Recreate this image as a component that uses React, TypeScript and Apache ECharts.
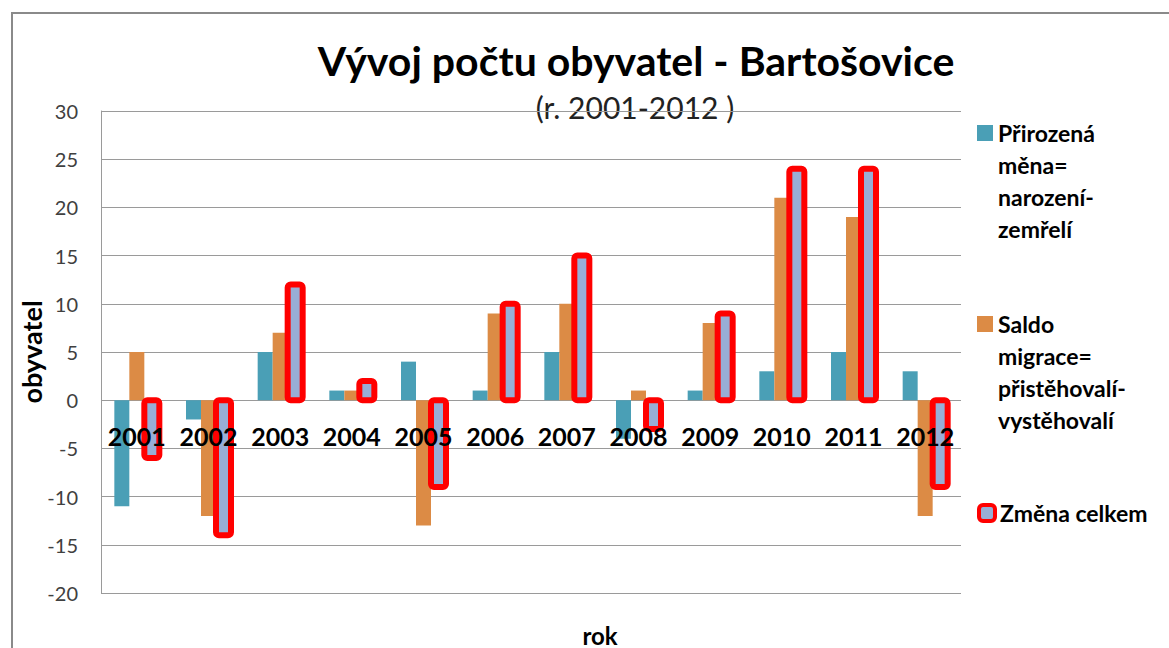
import React, { useEffect, useRef } from "react";
import * as echarts from "echarts";

const years = ["2001", "2002", "2003", "2004", "2005", "2006", "2007", "2008", "2009", "2010", "2011", "2012"];
const prirozenaMena = [-11, -2, 5, 1, 4, 1, 5, -4, 1, 3, 5, 3];
const saldoMigrace = [5, -12, 7, 1, -13, 9, 10, 1, 8, 21, 19, -12];
const zmenaCelkem = [-6, -14, 12, 2, -9, 10, 15, -3, 9, 24, 24, -9];

const seriesNames = [
  "Přirozená měna=narození-zemřelí",
  "Saldo migrace=přistěhovalí-vystěhovalí",
  "Změna celkem",
];
const legendLabels = [
  "Přirozená\nměna=\nnarození-\nzemřelí",
  "Saldo\nmigrace=\npřistěhovalí-\nvystěhovalí",
  "Změna celkem",
];

const titleText = "Vývoj počtu obyvatel - Bartošovice";
const subtitleText = "(r. 2001-2012 )";
const yAxisName = "obyvatel";
const xAxisName = "rok";

const FONT = "Lato, 'Open Sans', sans-serif";
const BAR_W = 15;

export default function App() {
  const ref = useRef<HTMLDivElement>(null);

  useEffect(() => {
    document.body.style.margin = "0";
    if (!ref.current) return;
    const chart = echarts.init(ref.current, undefined, { renderer: "svg" });

    const legendText = {
      fontFamily: FONT,
      fontSize: 23,
      fontWeight: "bold",
      color: "#000",
      lineHeight: 32,
    };
    // leading blank lines keep the icon level with the first text line
    const topAligned = (s: string) => {
      const n = s.split("\n").length - 1;
      return "\n".repeat(n) + s;
    };

    chart.setOption({
      animation: false,
      backgroundColor: "#fff",
      textStyle: { fontFamily: FONT },
      grid: { left: 101, right: 208, top: 111, bottom: 55, containLabel: false },
      legend: [
        {
          orient: "vertical",
          left: 972,
          top: 16,
          itemWidth: 16,
          itemHeight: 16,
          selectedMode: false,
          icon: "rect",
          data: [{ name: seriesNames[0] }],
          formatter: () => topAligned(legendLabels[0]),
          textStyle: legendText,
        },
        {
          orient: "vertical",
          left: 972,
          top: 207,
          itemWidth: 16,
          itemHeight: 16,
          selectedMode: false,
          icon: "rect",
          data: [{ name: seriesNames[1] }],
          formatter: () => topAligned(legendLabels[1]),
          textStyle: legendText,
        },
        {
          orient: "vertical",
          left: 972,
          top: 492,
          itemWidth: 16,
          itemHeight: 16,
          selectedMode: false,
          icon: "roundRect",
          data: [{ name: seriesNames[2] }],
          formatter: () => legendLabels[2],
          itemStyle: { color: "#98AED6", borderColor: "#FF0000", borderWidth: 4 },
          textStyle: legendText,
        },
      ],
      xAxis: {
        type: "category",
        data: years,
        z: 10,
        axisLine: { show: false },
        axisTick: { show: false },
        axisLabel: {
          fontFamily: FONT,
          fontSize: 25,
          fontWeight: "bold",
          color: "#000",
          margin: -170,
          interval: 0,
          hideOverlap: false,
        },
      },
      yAxis: {
        type: "value",
        min: -20,
        max: 30,
        interval: 5,
        name: yAxisName,
        nameLocation: "middle",
        nameGap: 56,
        nameRotate: 90,
        nameMoveOverlap: false,
        nameTextStyle: { fontFamily: FONT, fontSize: 27, fontWeight: "bold", color: "#000" },
        axisLine: { show: true, lineStyle: { color: "#9a9a9a", width: 1 } },
        axisTick: { show: false },
        axisLabel: { fontFamily: FONT, fontSize: 20, color: "#404040", margin: 23 },
        splitLine: { show: true, lineStyle: { color: "#9a9a9a", width: 1 } },
      },
      series: [
        {
          name: seriesNames[0],
          type: "bar",
          data: prirozenaMena,
          barWidth: BAR_W,
          barGap: "0%",
          itemStyle: { color: "#4A9FB6" },
        },
        {
          name: seriesNames[1],
          type: "bar",
          data: saldoMigrace,
          barWidth: BAR_W,
          barGap: "0%",
          itemStyle: { color: "#DC8B45" },
        },
        {
          name: seriesNames[2],
          type: "bar",
          data: zmenaCelkem,
          barWidth: BAR_W,
          barGap: "0%",
          itemStyle: { color: "#98AED6" },
        },
        {
          name: "Změna celkem – okraj",
          type: "custom",
          z: 3,
          data: zmenaCelkem.map((v, i) => [i, v]),
          encode: { x: 0, y: 1 },
          renderItem: (params: any, api: any) => {
            const i = api.value(0);
            const v = api.value(1);
            const base = api.coord([i, 0]);
            const end = api.coord([i, v]);
            const x = base[0] + BAR_W / 2;
            return {
              type: "rect",
              shape: {
                x,
                y: Math.min(base[1], end[1]),
                width: BAR_W,
                height: Math.abs(end[1] - base[1]),
                r: 3,
              },
              style: { fill: "none", stroke: "#FF0000", lineWidth: 6 },
            };
          },
        },
      ],
      graphic: [
        {
          type: "rect",
          shape: { x: 12, y: 13, width: 1200, height: 700 },
          style: { fill: "none", stroke: "#8a8a8a", lineWidth: 2 },
          z: -1,
          silent: true,
        },
        {
          type: "text",
          x: 636,
          y: 60,
          style: {
            text: titleText,
            fontFamily: FONT,
            fontSize: 41,
            fontWeight: "bold",
            fill: "#000",
            textAlign: "center",
            textVerticalAlign: "middle",
          },
        },
        {
          type: "text",
          x: 635,
          y: 107,
          style: {
            text: subtitleText,
            fontFamily: FONT,
            fontSize: 30,
            fill: "#222",
            textAlign: "center",
            textVerticalAlign: "middle",
          },
        },
        {
          type: "text",
          x: 600,
          y: 635,
          style: {
            text: xAxisName,
            fontFamily: FONT,
            fontSize: 24,
            fontWeight: "bold",
            fill: "#000",
            textAlign: "center",
            textVerticalAlign: "middle",
          },
        },
      ],
    });

    return () => chart.dispose();
  }, []);

  return <div ref={ref} style={{ width: 1169, height: 648 }} />;
}
